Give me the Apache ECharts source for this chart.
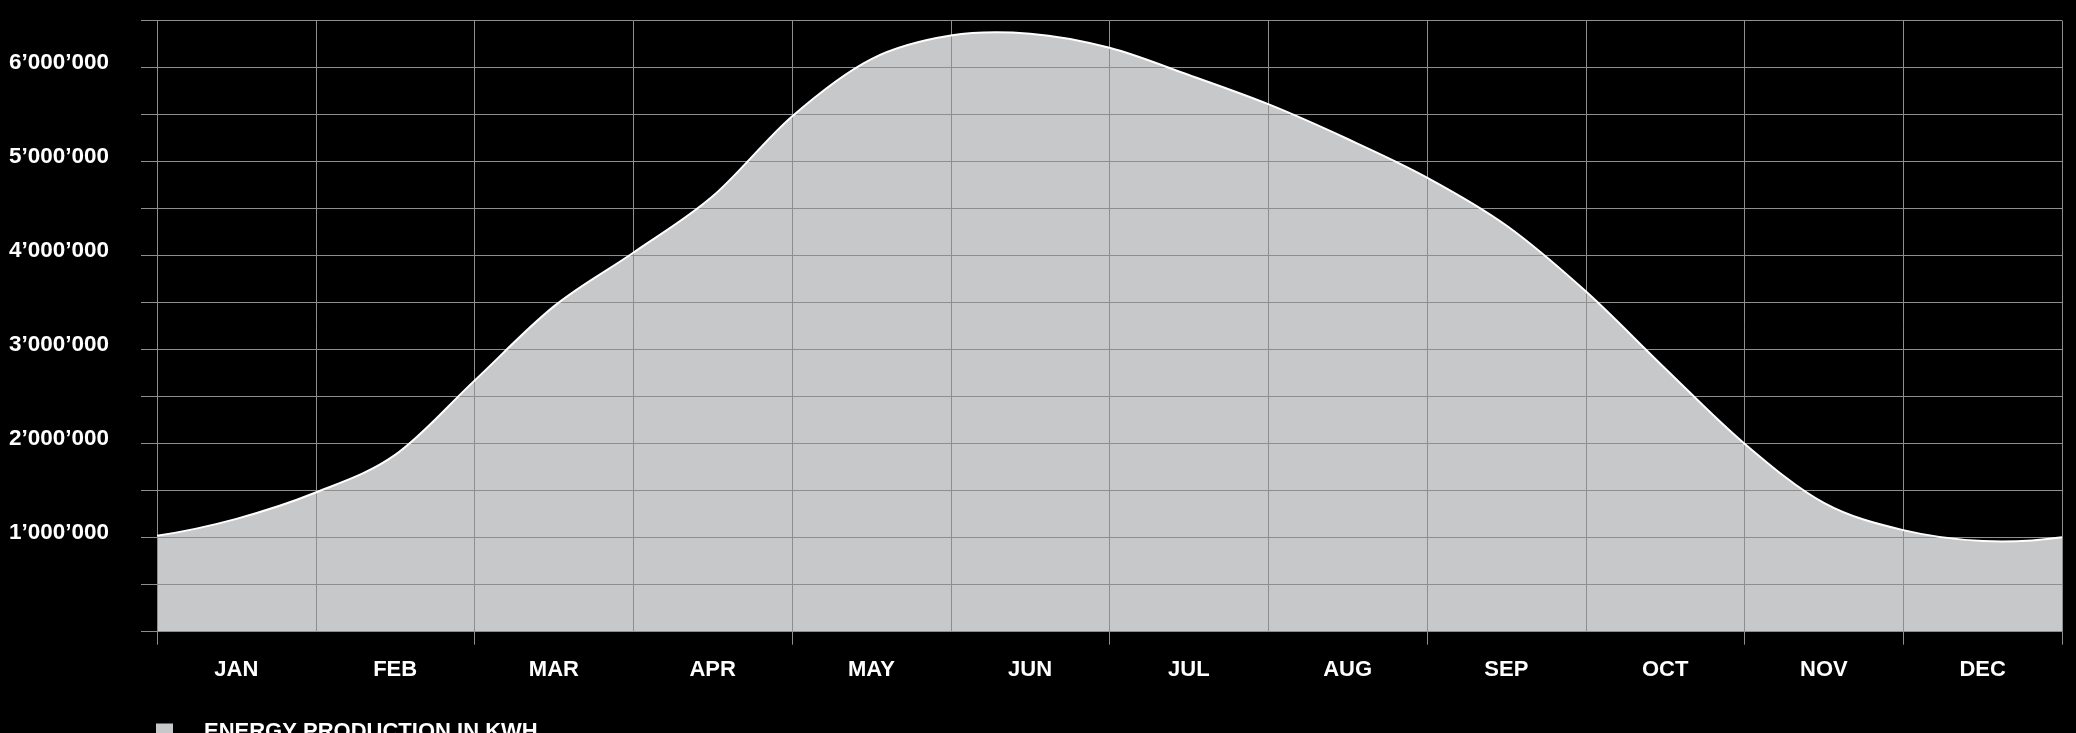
<!DOCTYPE html>
<html>
<head>
<meta charset="utf-8">
<title>Energy production</title>
<script src="https://cdn.jsdelivr.net/npm/echarts@6/dist/echarts.min.js"></script>
<style>
  html, body { margin: 0; padding: 0; background: #000; }
  #chart { width: 2076px; height: 733px; }
</style>
</head>
<body>
<div id="chart"></div>
<script>
// Month labels shown under the axis
const months = ['JAN', 'FEB', 'MAR', 'APR', 'MAY', 'JUN', 'JUL', 'AUG', 'SEP', 'OCT', 'NOV', 'DEC'];

// Sample days of the production curve (start and middle of every month, plus year end)
const sampleDays = [
  '1 JAN', '16 JAN', '1 FEB', '15 FEB', '1 MAR', '16 MAR', '1 APR', '16 APR',
  '1 MAY', '16 MAY', '1 JUN', '16 JUN', '1 JUL', '16 JUL', '1 AUG', '16 AUG',
  '1 SEP', '16 SEP', '1 OCT', '16 OCT', '1 NOV', '16 NOV', '1 DEC', '16 DEC', '31 DEC'
];

// Energy production in kWh at each sample day
const energyKwh = [
  1020000, 1200000, 1480000, 1880000, 2670000, 3460000, 4030000, 4630000,
  5480000, 6090000, 6340000, 6360000, 6210000, 5920000, 5610000, 5240000,
  4830000, 4320000, 3620000, 2800000, 2000000, 1370000, 1080000, 965000, 1005000
];

const seriesName = 'ENERGY PRODUCTION IN KWH';

const gridGrey = '#8e8e8e';
const areaGrey = '#c7c8ca';
const fontFamily = '"Liberation Sans", Arial, Helvetica, sans-serif';

function swissThousands(v) {
  return String(v).replace(/\B(?=(\d{3})+(?!\d))/g, '\u2019');
}

// Pixel positions of every sample, taken from the chart's own axes
function curvePoints(api) {
  const pts = [];
  for (let i = 0; i < energyKwh.length; i++) {
    pts.push(api.coord([i, energyKwh[i]]));
  }
  return pts;
}

// Quadratic extrapolation beyond an end of the curve (sets the end tangent)
function phantom(a, b, c) {
  return [3 * a[0] - 3 * b[0] + c[0], 3 * a[1] - 3 * b[1] + c[1]];
}

// Smooth cubic (Catmull-Rom) path through the projected samples
function splinePath(pts) {
  const n = pts.length;
  const ext = [phantom(pts[0], pts[1], pts[2])]
    .concat(pts)
    .concat([phantom(pts[n - 1], pts[n - 2], pts[n - 3])]);
  let d = 'M' + pts[0][0] + ' ' + pts[0][1];
  for (let i = 1; i < ext.length - 2; i++) {
    const p0 = ext[i - 1];
    const p1 = ext[i];
    const p2 = ext[i + 1];
    const p3 = ext[i + 2];
    const c1x = p1[0] + (p2[0] - p0[0]) / 6;
    const c1y = p1[1] + (p2[1] - p0[1]) / 6;
    const c2x = p2[0] - (p3[0] - p1[0]) / 6;
    const c2y = p2[1] - (p3[1] - p1[1]) / 6;
    d += ' C' + c1x + ' ' + c1y + ' ' + c2x + ' ' + c2y + ' ' + p2[0] + ' ' + p2[1];
  }
  return d;
}

function renderArea(params, api) {
  if (params.dataIndex !== 0) return null;
  const pts = curvePoints(api);
  const base = api.coord([0, 0])[1];
  const last = pts[pts.length - 1];
  return {
    type: 'path',
    shape: {
      pathData: splinePath(pts) + ' L' + last[0] + ' ' + base + ' L' + pts[0][0] + ' ' + base + ' Z'
    },
    style: { fill: areaGrey, stroke: null }
  };
}

function renderLine(params, api) {
  if (params.dataIndex !== 0) return null;
  const pts = curvePoints(api);
  return {
    type: 'path',
    shape: { pathData: splinePath(pts) },
    style: { fill: null, stroke: '#ffffff', lineWidth: 2 }
  };
}

const seriesData = energyKwh.map(function (v, i) { return [i, v]; });

const chart = echarts.init(document.getElementById('chart'), null, { renderer: 'canvas' });

chart.setOption({
  backgroundColor: '#000',
  animation: false,
  textStyle: { fontFamily: fontFamily },
  grid: {
    left: 157, right: 14, top: 20.5, bottom: 101.3,
    outerBoundsMode: 'none',
    containLabel: false
  },
  legend: {
    left: 156,
    top: 721,
    padding: 0,
    icon: 'rect',
    itemWidth: 17,
    itemHeight: 17,
    data: [{ name: seriesName, itemStyle: { color: areaGrey } }],
    textStyle: {
      color: '#fff',
      fontSize: 22,
      fontWeight: 'bold',
      fontFamily: fontFamily,
      padding: [0, 0, 0, 26]
    },
    selectedMode: false
  },
  xAxis: [
    {
      type: 'category',
      data: months,
      boundaryGap: true,
      z: 2,
      axisLine: { show: true, lineStyle: { color: gridGrey, width: 1 } },
      axisTick: { show: true, interval: 1, length: 13, lineStyle: { color: gridGrey } },
      axisLabel: {
        color: '#fff',
        fontSize: 22,
        fontWeight: 'bold',
        fontFamily: fontFamily,
        margin: 27,
        interval: 0
      },
      splitLine: { show: true, interval: 0, lineStyle: { color: gridGrey, width: 1 } }
    },
    {
      type: 'category',
      data: sampleDays,
      boundaryGap: false,
      show: false
    }
  ],
  yAxis: {
    type: 'value',
    min: 0,
    max: 6500000,
    interval: 500000,
    z: 2,
    axisLine: { show: true, lineStyle: { color: gridGrey, width: 1 } },
    axisTick: { show: true, length: 16, lineStyle: { color: gridGrey } },
    axisLabel: {
      color: '#fff',
      fontSize: 22.5,
      fontWeight: 'bold',
      fontFamily: fontFamily,
      margin: 48,
      verticalAlign: 'bottom',
      lineHeight: 9,
      formatter: function (v) {
        return (v > 0 && v % 1000000 === 0) ? swissThousands(v) : '';
      }
    },
    splitLine: { show: true, lineStyle: { color: gridGrey, width: 1 } }
  },
  series: [
    {
      name: seriesName,
      type: 'custom',
      xAxisIndex: 1,
      yAxisIndex: 0,
      data: seriesData,
      encode: { x: 0, y: 1 },
      z: 1,
      itemStyle: { color: areaGrey },
      renderItem: renderArea
    },
    {
      name: seriesName,
      type: 'custom',
      xAxisIndex: 1,
      yAxisIndex: 0,
      data: seriesData,
      encode: { x: 0, y: 1 },
      z: 3,
      itemStyle: { color: '#ffffff' },
      renderItem: renderLine
    }
  ]
});
</script>
</body>
</html>
